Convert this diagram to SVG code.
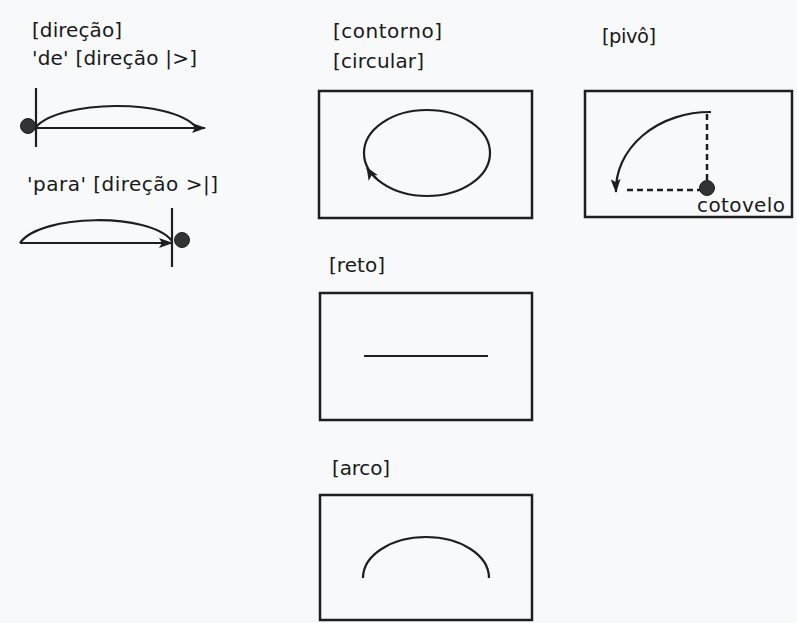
<svg xmlns="http://www.w3.org/2000/svg" width="797" height="623" viewBox="0 0 797 623">
  <defs>
    <style>
      .lbl { font-family: "DejaVu Sans", "Liberation Sans", sans-serif; font-size: 20px; fill: #1a1a1a; }
      .small { font-family: "DejaVu Sans", "Liberation Sans", sans-serif; font-size: 20px; fill: #1a1a1a; }
      .box { fill: none; stroke: #1e1e1e; stroke-width: 2.5; }
      .ln { fill: none; stroke: #1e1e1e; stroke-width: 2.2; }
      .dash { fill: none; stroke: #1e1e1e; stroke-width: 2.5; stroke-dasharray: 6 4; }
      .dot { fill: #333; stroke: #1e1e1e; stroke-width: 1; }
    </style>
    <marker id="ah" viewBox="0 0 14 10" refX="13" refY="5" markerWidth="15" markerHeight="10" markerUnits="userSpaceOnUse" orient="auto">
      <path d="M0,0 L14,5 L0,10 L3,5 Z" fill="#1e1e1e"/>
    </marker>
    <marker id="ahs" viewBox="0 0 12 10" refX="11" refY="5" markerWidth="13" markerHeight="11" markerUnits="userSpaceOnUse" orient="auto">
      <path d="M0,0 L12,5 L0,10 L3,5 Z" fill="#1e1e1e"/>
    </marker>
  </defs>
  <rect x="0" y="0" width="797" height="623" fill="#f7f9fa"/>

  <g id="direcao-de">
    <text class="lbl" x="32" y="37" textLength="90" lengthAdjust="spacing">[direção]</text>
    <text class="lbl" x="32" y="65" textLength="165" lengthAdjust="spacing">'de' [direção |&gt;]</text>
    <line class="ln" x1="36" y1="88" x2="36" y2="147"/>
    <path class="ln" d="M36,127 C 60,100 170,98 196,127"/>
    <line class="ln" x1="36" y1="128" x2="205" y2="128" marker-end="url(#ah)"/>
    <circle class="dot" cx="28" cy="126" r="7.5"/>
  </g>

  <g id="direcao-para">
    <text class="lbl" x="27" y="191" textLength="191" lengthAdjust="spacing">'para' [direção &gt;|]</text>
    <line class="ln" x1="172" y1="208" x2="172" y2="267"/>
    <path class="ln" d="M20,243 C 40,214 150,212 172,241"/>
    <line class="ln" x1="20" y1="243" x2="172" y2="243" marker-end="url(#ah)"/>
    <circle class="dot" cx="182" cy="240" r="7.5"/>
  </g>

  <g id="contorno">
    <text class="lbl" x="333" y="38" textLength="109" lengthAdjust="spacing">[contorno]</text>
    <text class="lbl" x="333" y="68" textLength="91" lengthAdjust="spacing">[circular]</text>
    <rect class="box" x="319" y="91" width="213" height="127"/>
    <ellipse class="ln" cx="427" cy="153" rx="63" ry="43"/>
    <path class="ln" d="M377,179 A63,43 0 0 1 367,168" marker-end="url(#ahs)"/>
  </g>

  <g id="pivo">
    <text class="lbl" x="602" y="43" style="font-size:19.5px" textLength="54" lengthAdjust="spacing">[pivô]</text>
    <rect class="box" x="585" y="91" width="207" height="126"/>
    <line class="dash" x1="707" y1="114" x2="707" y2="184"/>
    <line class="dash" x1="627" y1="190" x2="702" y2="190"/>
    <path class="ln" d="M711,112 A94,78 0 0 0 616,192" marker-end="url(#ah)"/>
    <circle class="dot" cx="707" cy="188" r="7.5"/>
    <text class="small" x="697" y="212" textLength="88" lengthAdjust="spacing">cotovelo</text>
  </g>

  <g id="reto">
    <text class="lbl" x="329" y="272" textLength="56" lengthAdjust="spacing">[reto]</text>
    <rect class="box" x="320" y="293" width="212" height="127"/>
    <line class="ln" x1="364" y1="356" x2="488" y2="356"/>
  </g>

  <g id="arco">
    <text class="lbl" x="332" y="475" textLength="58" lengthAdjust="spacing">[arco]</text>
    <rect class="box" x="320" y="495" width="212" height="125"/>
    <path class="ln" d="M363,578 A63,41 0 0 1 489,578"/>
  </g>

  <g id="connectors"></g>
</svg>
